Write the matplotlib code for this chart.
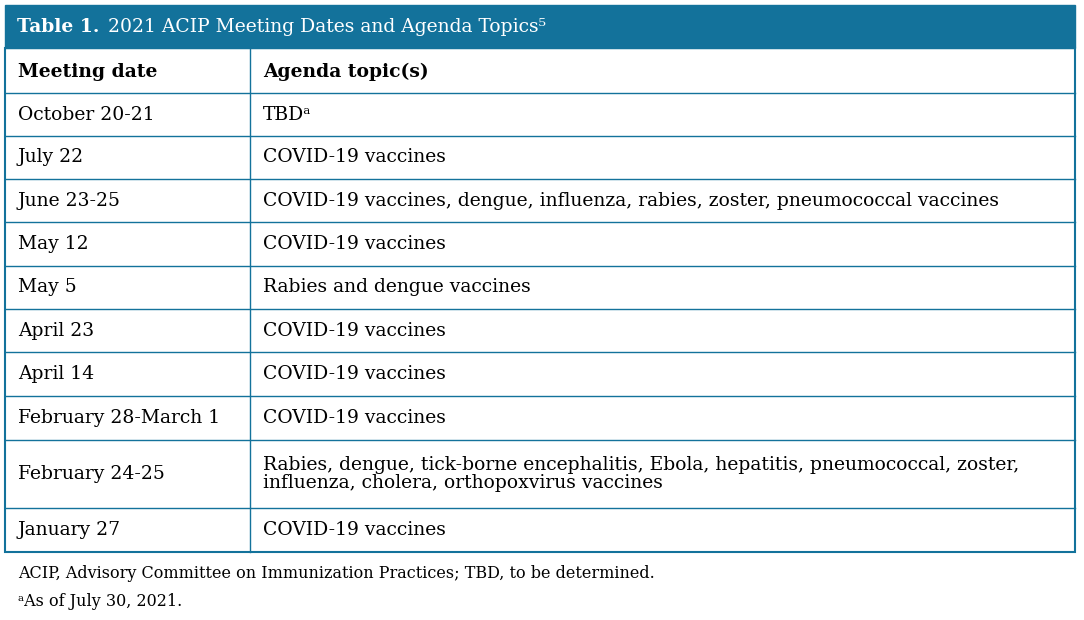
import matplotlib
matplotlib.use("Agg")
import matplotlib.pyplot as plt
from matplotlib.patches import Rectangle

title = "2021 ACIP Meeting Dates and Agenda Topics"
col_headers = ["Meeting date", "Agenda topic(s)"]
dates = ["October 20-21", "July 22", "June 23-25", "May 12", "May 5", "April 23",
         "April 14", "February 28-March 1", "February 24-25", "January 27"]
topics = ["TBDᵃ", "COVID-19 vaccines",
          "COVID-19 vaccines, dengue, influenza, rabies, zoster, pneumococcal vaccines",
          "COVID-19 vaccines", "Rabies and dengue vaccines", "COVID-19 vaccines",
          "COVID-19 vaccines", "COVID-19 vaccines",
          "Rabies, dengue, tick-borne encephalitis, Ebola, hepatitis, pneumococcal, zoster,\ninfluenza, cholera, orthopoxvirus vaccines",
          "COVID-19 vaccines"]
footnotes = ["ACIP, Advisory Committee on Immunization Practices; TBD, to be determined.",
             "ᵃAs of July 30, 2021."]

blue = "#13729b"
fig = plt.figure(figsize=(10.84, 6.2), dpi=100)
ax = fig.add_axes([0, 0, 1, 1])
ax.set_xlim(0, 1084); ax.set_ylim(620, 0); ax.axis("off")
fam = "DejaVu Serif"
fs = 13.5

ax.add_patch(Rectangle((5, 5), 1070, 43, color=blue, zorder=1))
ax.text(17, 27, "Table 1.", color="white", fontsize=fs, fontweight="bold", family=fam, va="center")
ax.text(108, 27, title + "⁵", color="white", fontsize=fs, family=fam, va="center")

lines = [48, 93, 136, 179, 222, 266, 309, 352, 396, 440, 508, 552]
ax.add_patch(Rectangle((5, 48), 1070, 504, fill=False, ec=blue, lw=1.5, zorder=3))
for y in lines[1:-1]:
    ax.plot([5, 1075], [y, y], color=blue, lw=1, zorder=2)
ax.plot([250, 250], [48, 552], color=blue, lw=1, zorder=2)

ax.text(18, 72, col_headers[0], fontsize=fs, fontweight="bold", family=fam, va="center")
ax.text(263, 72, col_headers[1], fontsize=fs, fontweight="bold", family=fam, va="center")
for i, (d, t) in enumerate(zip(dates, topics)):
    yc = (lines[i + 1] + lines[i + 2]) / 2
    ax.text(18, yc, d, fontsize=fs, family=fam, va="center")
    ax.text(263, yc, t, fontsize=fs, family=fam, va="center", linespacing=1.05)

ax.text(18, 574, footnotes[0], fontsize=11.5, family=fam, va="center")
ax.text(18, 602, footnotes[1], fontsize=11.5, family=fam, va="center")
fig.savefig("out.png", dpi=100)
